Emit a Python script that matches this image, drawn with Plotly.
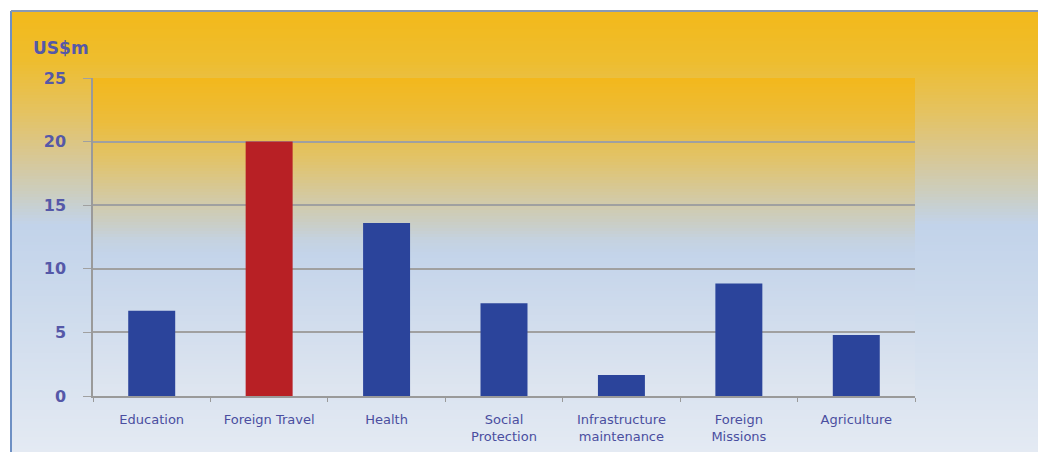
import plotly.graph_objects as go

categories = ["Education", "Foreign Travel", "Health", "Social<br>Protection",
              "Infrastructure<br>maintenance", "Foreign<br>Missions", "Agriculture"]
values = [6.7, 20.0, 13.6, 7.3, 1.65, 8.85, 4.8]
bar_colors = ["#2B449B", "#B82025", "#2B449B", "#2B449B", "#2B449B", "#2B449B", "#2B449B"]
y_ticks = [0, 5, 10, 15, 20, 25]

W, H = 1038, 452
L, R, T, B = 93, 915, 78, 396  # plot area pixel bounds


def hex2rgb(h):
    h = h.lstrip("#")
    return tuple(int(h[i:i + 2], 16) for i in (0, 2, 4))


def interp(stops, y):
    for (y0, c0), (y1, c1) in zip(stops, stops[1:]):
        if y0 <= y <= y1:
            t = (y - y0) / (y1 - y0) if y1 > y0 else 0
            a, b = hex2rgb(c0), hex2rgb(c1)
            return "rgb(%d,%d,%d)" % tuple(round(a[i] + (b[i] - a[i]) * t) for i in range(3))
    return stops[-1][1]


def px2x(px):
    return (px - L) / (R - L)


def px2y(py):
    return (B - py) / (B - T)


outer_stops = [(11, "#F3B91A"), (60, "#EEBD2E"), (110, "#E5C25E"), (160, "#D7C898"),
               (195, "#CBCEC2"), (225, "#C2D3EA"), (300, "#CCDAEC"), (452, "#E4EAF3")]
plot_stops = [(78, "#F3B81C"), (120, "#ECBC3A"), (160, "#E1C36A"), (200, "#D3CAA6"),
              (220, "#CBCDC0"), (240, "#C5D2E0"), (255, "#C4D4EA"), (396, "#DFE6F0")]

shapes = []
step = 3
y = 11
while y < H:
    y2 = min(y + step, H)
    shapes.append(dict(type="rect", xref="paper", yref="paper", layer="below",
                       x0=px2x(11), x1=px2x(W + 2), y0=px2y(min(y2 + 1, H)), y1=px2y(y),
                       fillcolor=interp(outer_stops, y + step / 2), line=dict(width=0)))
    y = y2
y = T
while y < B:
    y2 = min(y + step, B)
    shapes.append(dict(type="rect", xref="paper", yref="paper", layer="below",
                       x0=0, x1=1, y0=px2y(min(y2 + 1, B)), y1=px2y(y),
                       fillcolor=interp(plot_stops, y + step / 2), line=dict(width=0)))
    y = y2
# frame borders
shapes.append(dict(type="line", xref="paper", yref="paper", layer="below",
                   x0=px2x(11), x1=px2x(11), y0=px2y(H), y1=px2y(11),
                   line=dict(color="#6E90C4", width=2)))
shapes.append(dict(type="line", xref="paper", yref="paper", layer="below",
                   x0=px2x(11), x1=px2x(W + 2), y0=px2y(11), y1=px2y(11),
                   line=dict(color="#8A9AB4", width=2)))

fig = go.Figure(go.Bar(x=categories, y=values, marker=dict(color=bar_colors, line=dict(width=0)),
                       width=0.4))

fig.update_layout(
    width=W, height=H,
    margin=dict(l=L, r=W - R, t=T, b=H - B, pad=0, autoexpand=False),
    paper_bgcolor="white", plot_bgcolor="white",
    showlegend=False,
    shapes=shapes,
    font=dict(family="DejaVu Sans", color="#4A4EA0"),
    annotations=[dict(text="US$m", xref="paper", yref="paper",
                      x=px2x(31), y=px2y(48), xanchor="left", yanchor="middle",
                      showarrow=False, font=dict(size=17, color="#5558A8", weight="bold",
                                                 family="DejaVu Sans"))],
)
fig.update_xaxes(showline=True, linecolor="#9A9A9A", linewidth=1.5, automargin=False,
                 ticks="outside", tickson="boundaries", ticklen=4, tickcolor="#9A9A9A",
                 ticklabelstandoff=11,
                 tickfont=dict(size=13, color="#4A4EA0", family="DejaVu Sans"),
                 showgrid=False)
fig.update_yaxes(range=[0, 25], tickvals=y_ticks, showline=True, linecolor="#9A9A9A",
                 linewidth=1.5, showgrid=True, gridcolor="#A0A0A0", gridwidth=1.5,
                 automargin=False,
                 ticks="outside", ticklen=8, tickcolor="#A0A0A0", zeroline=False,
                 ticklabelstandoff=14,
                 tickfont=dict(size=16, color="#5558A8", family="DejaVu Sans", weight="bold"))

fig.write_html("out.html", config={"displayModeBar": False},
               post_script="document.body.style.margin='0';document.body.style.overflow='hidden';")
